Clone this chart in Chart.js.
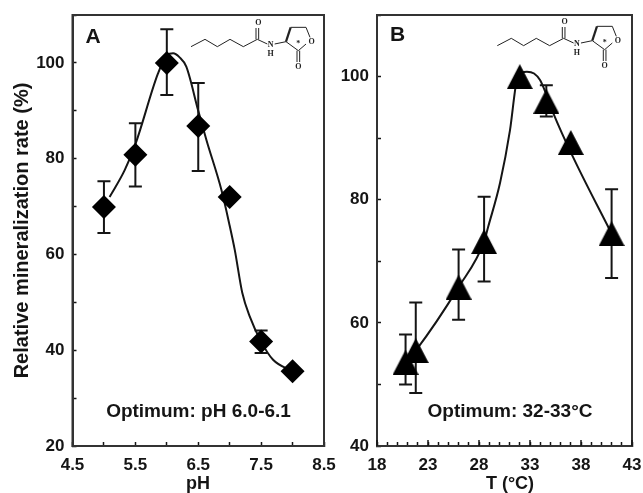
<!DOCTYPE html>
<html><head><meta charset="utf-8">
<script src="https://cdn.jsdelivr.net/npm/chart.js@4"></script>
<style>
html,body{margin:0;padding:0;background:#fff;overflow:hidden}
canvas{position:absolute;top:0;filter:blur(0.45px)}
#wa{position:absolute;left:0;top:0;width:345px;height:493px}
#wb{position:absolute;left:335px;top:0;width:310px;height:493px}
</style></head><body>
<div id="wa"><canvas id="a"></canvas></div>
<div id="wb"><canvas id="b"></canvas></div>
<script>
const phValues   = [5, 5.5, 6, 6.5, 7, 7.5, 8];
const phRates    = [69.9, 80.8, 100, 86.8, 72, 41.8, 35.6];
const phErrHigh  = [75.3, 87.4, 107, 95.8, null, 44.1, null];
const phErrLow   = [64.5, 74.2, 93.3, 77.4, null, 39.4, null];
const phCurveX   = [5.09, 5.33, 5.5, 5.86, 6.0, 6.1, 6.2, 6.31, 6.5, 6.63, 6.87, 7.0, 7.08, 7.2, 7.32, 7.5, 7.69, 8];
const phCurveY   = [72, 77.6, 83, 97.8, 101.6, 102, 101.2, 99.2, 90, 83.9, 73.4, 66, 61, 52, 47, 41.8, 38, 35.6];

const tempValues  = [20.8, 21.8, 26, 28.5, 32, 34.6, 37, 41];
const tempRates   = [53.6, 55.5, 65.8, 73.2, 100, 96, 89.3, 74.5];
const tempErrHigh = [58.1, 63.3, 71.9, 80.5, null, 98.6, null, 81.7];
const tempErrLow  = [50, 48.6, 60.5, 66.7, null, 93.5, null, 67.3];
const tempCurveX  = [20.8, 21.8, 26, 28.5, 28.9, 30.06, 31.04, 31.7, 32.2, 32.7, 33.4, 34, 34.5, 35.3, 37.2, 41];
const tempCurveY  = [53.6, 55.5, 65.8, 73.2, 75.6, 82.7, 91.3, 99.4, 100.6, 100.8, 100.5, 99.4, 97.5, 94, 87, 74.5];

const INK = '#151515';
const FONT = '"Liberation Sans", Arial, sans-serif';
const pts = (xs, ys) => xs.map((x, i) => ({x, y: ys[i]}));

function triangleMarker() {
  const c = document.createElement('canvas');
  c.width = 26; c.height = 25;
  const g = c.getContext('2d');
  g.fillStyle = '#000';
  g.beginPath(); g.moveTo(13, 0); g.lineTo(26, 25); g.lineTo(0, 25); g.closePath(); g.fill();
  return c;
}

function drawMolecule(g, dx, dy) {
  const P = (x, y) => [x / 3 + dx, y / 3 + dy];
  const line = (pairs, w) => {
    g.lineWidth = w; g.beginPath();
    pairs.forEach((p, i) => { const q = P(p[0], p[1]); i ? g.lineTo(q[0], q[1]) : g.moveTo(q[0], q[1]); });
    g.stroke();
  };
  g.save();
  g.strokeStyle = '#222'; g.fillStyle = '#222'; g.lineJoin = 'round';
  line([[33,110],[75,88],[112,110],[150,88],[190,110],[232,88],[262,102]], 1);
  line([[228,88],[228,54]], 1); line([[236,88],[236,54]], 1);
  line([[284,102],[318,95]], 1);
  line([[318,95],[332,52]], 2.2);
  line([[332,52],[378,52],[390,82]], 1);
  line([[378,102],[355,122],[318,95]], 1);
  line([[351,122],[351,156]], 1); line([[359,122],[359,156]], 1);
  g.font = 'bold 8px "Liberation Serif", serif';
  g.textAlign = 'center'; g.textBaseline = 'middle';
  [['O',235,40],['N',272,105],['H',272,133],['O',395,95],['O',355,171],['*',355,103]].forEach(t => {
    const q = P(t[1], t[2]); g.fillText(t[0], q[0], q[1]);
  });
  g.restore();
}

const decor = {
  id: 'decor',
  beforeDatasetsDraw(chart, args, o) {
    const g = chart.ctx, xs = chart.scales.x, ys = chart.scales.y;
    g.save();
    g.strokeStyle = INK; g.lineWidth = 2;
    o.xs.forEach((x, i) => {
      if (o.hi[i] == null) return;
      const px = xs.getPixelForValue(x), a = ys.getPixelForValue(o.hi[i]), b = ys.getPixelForValue(o.lo[i]);
      g.beginPath();
      g.moveTo(px, a); g.lineTo(px, b);
      g.moveTo(px - 6.5, a); g.lineTo(px + 6.5, a);
      g.moveTo(px - 6.5, b); g.lineTo(px + 6.5, b);
      g.stroke();
    });
    g.restore();
  },
  afterDraw(chart, args, o) {
    const g = chart.ctx, ca = chart.chartArea, xs = chart.scales.x;
    g.save();
    g.strokeStyle = '#333'; g.lineWidth = 2;
    g.strokeRect(ca.left, ca.top, ca.right - ca.left, ca.bottom - ca.top);
    g.strokeStyle = INK; g.lineWidth = 1.5;
    if (o.majorEvery) xs.ticks.forEach(t => {
      if ((t.value - xs.min) % o.majorEvery === 0) {
        const p = xs.getPixelForValue(t.value);
        g.beginPath(); g.moveTo(p, ca.bottom); g.lineTo(p, ca.bottom - 6); g.stroke();
      }
    });
    g.fillStyle = INK; g.textBaseline = 'middle'; g.textAlign = 'left';
    g.font = 'bold 21px ' + FONT;
    g.fillText(o.letter, ca.left + o.letterDx, o.letterY);
    g.font = 'bold 19px ' + FONT;
    g.textAlign = 'center';
    g.fillText(o.note, o.noteX, 412);
    g.font = 'bold 18px ' + FONT;
    g.fillText(o.xTitle, o.xTitleX, 484);
    drawMolecule(g, o.molX, o.molY);
    g.restore();
  }
};

function axis(min, max, step, labelEvery) {
  return {
    type: 'linear', min, max,
    border: {display: true, color: '#333', width: 2},
    grid: {display: true, drawOnChartArea: false, drawTicks: true, tickLength: -4, tickColor: INK, tickWidth: 1.5},
    ticks: {
      stepSize: step, autoSkip: false, maxRotation: 0, minRotation: 0, padding: 12,
      color: INK, font: {family: FONT, weight: 'bold', size: 17},
      callback: v => {
        const k = (v - min) / labelEvery;
        return Math.abs(k - Math.round(k)) < 1e-6 ? String(v) : '';
      }
    }
  };
}

function makeChart(id, cfg) {
  const xAxis = axis(cfg.xr[0], cfg.xr[1], cfg.xr[2], cfg.xr[3]);
  xAxis.ticks.padding = 13;
  xAxis.afterFit = s => { s.height = 493 - 446; s.paddingLeft = 0; s.paddingRight = 0; };
  const yAxis = axis(cfg.yr[0], cfg.yr[1], cfg.yr[2], cfg.yr[3]);
  yAxis.afterFit = s => { s.width = cfg.yWidth; s.paddingTop = 0; s.paddingBottom = 0; };
  if (cfg.yTitle) yAxis.title = {display: true, text: cfg.yTitle, color: INK, font: {family: FONT, weight: 'bold', size: 20}, padding: {top: 10, bottom: 0}};
  return new Chart(document.getElementById(id), {
    type: 'scatter',
    data: {datasets: [
      {data: pts(cfg.cx, cfg.cy), showLine: true, pointRadius: 0, borderColor: INK, borderWidth: 2, cubicInterpolationMode: 'monotone', order: 2},
      {data: pts(cfg.px, cfg.py), showLine: false, pointStyle: cfg.marker, pointRadius: cfg.radius, pointBackgroundColor: '#000', pointBorderColor: '#000', pointBorderWidth: 0, order: 1}
    ]},
    options: {
      responsive: true, maintainAspectRatio: false, animation: false,
      layout: {padding: {top: 15, right: cfg.rightPad, left: 0, bottom: 0}},
      scales: {x: xAxis, y: yAxis},
      plugins: {
        legend: {display: false}, tooltip: {enabled: false},
        decor: {xs: cfg.px, hi: cfg.hi, lo: cfg.lo, letter: cfg.letter, letterDx: cfg.letterDx, letterY: cfg.letterY, note: cfg.note, noteX: cfg.noteX, xTitle: cfg.xTitle, xTitleX: cfg.xTitleX, molX: cfg.molX, molY: cfg.molY, majorEvery: cfg.majorEvery}
      }
    },
    plugins: [decor]
  });
}

makeChart('a', {
  xr: [4.5, 8.5, 0.5, 1], yr: [20, 110, 10, 20], xTitle: 'pH', xTitleX: 198, yTitle: 'Relative mineralization rate (%)',
  yWidth: 72.5, rightPad: 21, cx: phCurveX, cy: phCurveY, px: phValues, py: phRates, hi: phErrHigh, lo: phErrLow,
  marker: 'rectRot', radius: 12, letter: 'A', letterDx: 13, letterY: 37, note: 'Optimum: pH 6.0-6.1', noteX: 198.5, molX: 180, molY: 10
});
makeChart('b', {
  xr: [18, 43, 1, 5], yr: [40, 110, 10, 20], xTitle: 'T (°C)', xTitleX: 175, yTitle: null,
  yWidth: 42, rightPad: 13, cx: tempCurveX, cy: tempCurveY, px: tempValues, py: tempRates, hi: tempErrHigh, lo: tempErrLow,
  marker: triangleMarker(), radius: 13, letter: 'B', letterDx: 13, letterY: 35, note: 'Optimum: 32-33°C', noteX: 175, molX: 151.3, molY: 9, majorEvery: 5
});
</script>
</body></html>
